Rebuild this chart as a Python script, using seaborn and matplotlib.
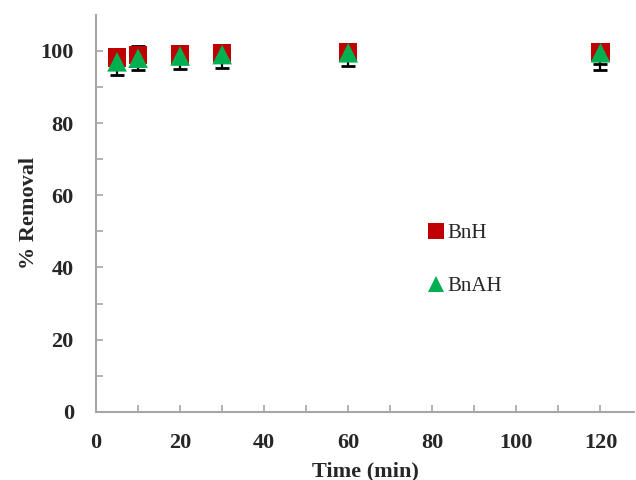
import matplotlib.pyplot as plt
import seaborn as sns
import pandas as pd
import numpy as np

sns.set_style('white')
plt.rcParams['font.family'] = ['Liberation Serif', 'DejaVu Serif']

time = [5, 10, 20, 30, 60, 120]
bnh = [98.2, 98.8, 99.0, 99.4, 99.7, 99.7]
bnh_lo = [1.5, 1.5, 1.5, 1.0, 1.0, 3.4]
bnh_hi = [2.3, 2.6, 2.3, 0.3, 0.3, 0.3]
bnah = [97.0, 98.0, 98.6, 99.0, 99.5, 99.5]
bnah_lo = [3.6, 3.4, 3.6, 3.6, 3.8, 4.8]
bnah_hi = [0.8, 0.8, 0.8, 0.4, 0.3, 0.3]

df = pd.DataFrame({'Time': time * 2,
                   'Removal': bnh + bnah,
                   'Sample': ['BnH'] * 6 + ['BnAH'] * 6})

fig = plt.figure(figsize=(6.36, 4.8), dpi=100)
ax = fig.add_axes([0.151, 0.142, 0.846, 0.827])

# error bars first so the markers sit on top
ax.errorbar(time, bnh, yerr=[bnh_lo, bnh_hi], fmt='none', ecolor='black',
            elinewidth=1.6, capsize=5, capthick=2, zorder=1)
ax.errorbar(time, bnah, yerr=[bnah_lo, bnah_hi], fmt='none', ecolor='black',
            elinewidth=1.6, capsize=5, capthick=2, zorder=1)

sns.scatterplot(data=df, x='Time', y='Removal', hue='Sample', style='Sample',
                size='Sample', sizes={'BnH': 175, 'BnAH': 200},
                palette={'BnH': '#C00000', 'BnAH': '#00B050'},
                markers={'BnH': 's', 'BnAH': '^'},
                linewidth=0, ax=ax, zorder=3)

ax.set_xlim(0, 128)
ax.set_ylim(0, 110)
ax.set_xticks([0, 20, 40, 60, 80, 100, 120])
ax.set_xticks(np.arange(10, 130, 20), minor=True)
ax.set_yticks([0, 20, 40, 60, 80, 100])
ax.set_yticks(np.arange(10, 110, 20), minor=True)

for s in ['top', 'right']:
    ax.spines[s].set_visible(False)
for s in ['left', 'bottom']:
    ax.spines[s].set_color('#a6a6a6')
    ax.spines[s].set_linewidth(1.5)

ax.tick_params(which='both', direction='in', color='#a6a6a6', width=1.2,
               bottom=True, left=True)
ax.tick_params(which='major', length=5, labelsize=16)
ax.tick_params(axis='x', which='major', pad=15)
ax.tick_params(axis='y', which='major', pad=16)
ax.tick_params(which='minor', length=5)
for lab in ax.get_xticklabels() + ax.get_yticklabels():
    lab.set_fontweight('bold')

ax.set_xlabel('Time (min)', fontsize=16, fontweight='bold', labelpad=6)
ax.set_ylabel('% Removal', fontsize=16, fontweight='bold', labelpad=1)

leg = ax.legend(loc='center left', bbox_to_anchor=(0.578, 0.383), frameon=False,
                fontsize=15, labelspacing=1.6, handletextpad=0.05,
                handlelength=1.0)
leg.legend_handles[0].set_markersize(11)
leg.legend_handles[1].set_markersize(12)

fig.savefig('out.png', dpi=100)
